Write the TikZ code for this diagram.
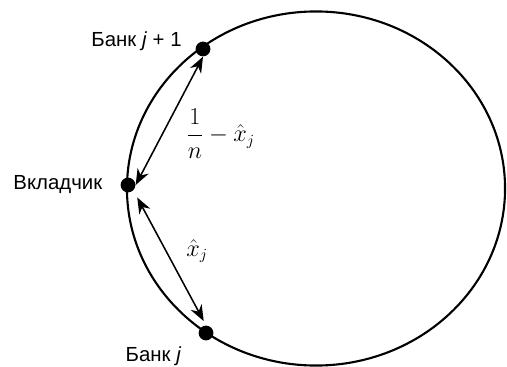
\documentclass[tikz,border=0pt]{standalone}
\usepackage{amsmath}
\usepackage{fontspec}
\setmainfont{Liberation Sans}
\usetikzlibrary{arrows.meta, positioning, calc}
\tikzset{
  dot/.style={circle, fill=black, inner sep=0pt, minimum size=0.37cm},
  lbl/.style={font=\fontsize{14.5}{17}\selectfont, inner sep=1pt},
  mth/.style={font=\fontsize{16}{19}\selectfont},
  arr/.style={{Stealth[length=4mm, width=3.1mm]}-{Stealth[length=4mm, width=3.1mm]}, line width=1.1pt},
}

\begin{document}
\begin{tikzpicture}[x=0.025cm, y=-0.025cm, node distance=0.4cm]
    \useasboundingbox (0,0) rectangle (507,367);
    \draw[line width=1.5pt] (316,188.5) ellipse [x radius=4.725cm, y radius=4.425cm];
    \node[dot] (dep) at (128,185) {};
    \node[dot] (bj1) at (203,49) {};
    \node[dot] (bj) at (206,333) {};
    \node[lbl, left=0.41cm of dep] (tdep) {Вкладчик};
    \node[lbl, left=0.3cm of bj1, yshift=0.2cm] (tbj1) {Банк \textit{j} + 1};
    \node[lbl, below left=0.16cm and 0.44cm of bj] (tbj) {Банк \textit{j}};
    \draw[arr] (dep.east) -- node[mth, right=0.45cm, pos=0.4] (gap) {$\dfrac{1}{n} - \hat{x}_j$} (bj1.south);
    \draw[arr, shorten <=0.2cm, shorten >=0.12cm] (dep.south east) -- node[mth, right=0.37cm, pos=0.45] (xj) {$\hat{x}_j$} (bj.north);
\end{tikzpicture}
\end{document}
